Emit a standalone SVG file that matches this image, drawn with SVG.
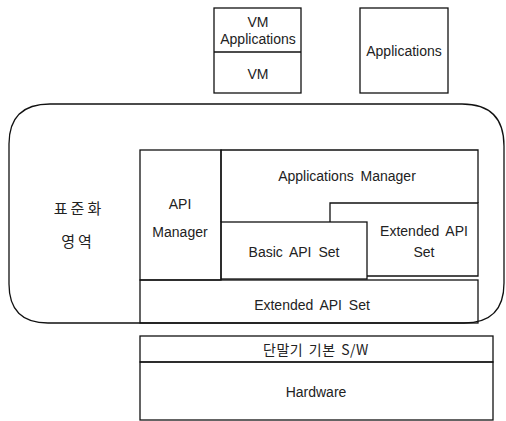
<svg xmlns="http://www.w3.org/2000/svg" width="506" height="421" viewBox="0 0 506 421">
<style>
.box{fill:none;stroke:#111;stroke-width:1.3}
.t{font-family:"Liberation Sans","Noto Sans CJK KR",sans-serif;font-size:14px;fill:#222;text-anchor:middle;word-spacing:3px}
.k{font-family:"Noto Sans CJK KR",sans-serif;font-size:15px;fill:#222;text-anchor:middle;letter-spacing:3px}
.s{font-family:"Noto Sans CJK KR",sans-serif;font-size:14px;fill:#222;text-anchor:middle;letter-spacing:0.5px;word-spacing:2px}
</style>
<rect width="506" height="421" fill="#fff"/>
<g id="vm">
<rect class="box" x="214" y="8" width="87" height="85"/>
<line class="box" x1="214" y1="52" x2="301" y2="52"/>
<text class="t" x="258" y="27">VM</text>
<text class="t" x="258" y="44">Applications</text>
<text class="t" x="258" y="79">VM</text>
</g>
<g id="apps">
<rect class="box" x="360" y="8" width="88" height="85"/>
<text class="t" x="404" y="56">Applications</text>
</g>
<g id="std">
<path class="box" d="M50,104 H462 Q504,104 504,146 V283 Q504,323 464,323 H48 Q9,323 9,284 V144 Q9,104 50,104 Z"/>
<text class="k" x="79" y="214">표준화</text>
<text class="k" x="78" y="247">영역</text>
</g>
<g id="apimgr">
<rect class="box" x="140" y="150" width="81" height="130"/>
<text class="t" x="180" y="209">API</text>
<text class="t" x="180" y="237">Manager</text>
</g>
<g id="appmgr">
<path class="box" d="M221,222 V150 H478 V203"/>
<text class="t" x="347" y="181">Applications Manager</text>
</g>
<g id="extright">
<path class="box" d="M330,222 V203 H478 V276 H367"/>
<text class="t" x="424" y="236">Extended API</text>
<text class="t" x="424" y="257">Set</text>
</g>
<g id="basic">
<rect class="box" x="221" y="222" width="146" height="57"/>
<text class="t" x="294" y="257">Basic API Set</text>
</g>
<g id="extbottom">
<rect class="box" x="140" y="280" width="338" height="43"/>
<text class="t" x="312" y="310">Extended API Set</text>
</g>
<g id="sw">
<rect class="box" x="140" y="336" width="353" height="26"/>
<text class="s" x="316" y="355">단말기 기본 S/W</text>
</g>
<g id="hw">
<rect class="box" x="140" y="362" width="353" height="58"/>
<text class="t" x="316" y="397">Hardware</text>
</g>
<g id="connectors"></g>
</svg>
